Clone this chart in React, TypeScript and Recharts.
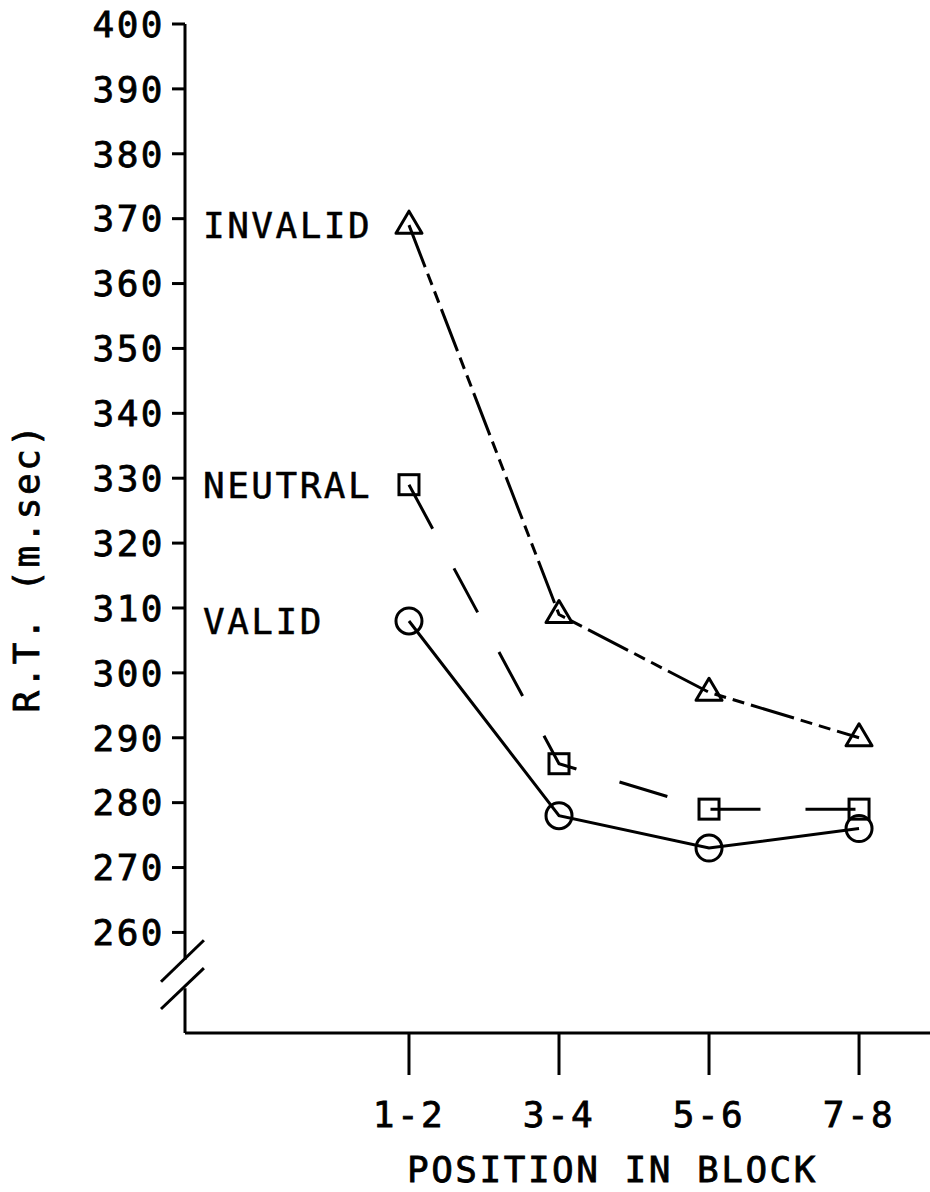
import React from 'react';
import { LineChart, Line, XAxis, YAxis, ReferenceLine } from 'recharts';

const categories = ['1-2', '3-4', '5-6', '7-8'];
const validRT = [308, 278, 273, 276];
const neutralRT = [329, 286, 279, 279];
const invalidRT = [369, 309, 297, 290];
const yTicks = [260, 270, 280, 290, 300, 310, 320, 330, 340, 350, 360, 370, 380, 390, 400];

const Y_MIN = 244.5;
const Y_MAX = 400;
const X_MIN = -0.493;
const X_MAX = 4.473;
// axis break (//) between 260 and the origin
const BREAK_LOW = 251.4;
const BREAK_HIGH = 255.8;

const FONT = '"DejaVu Sans Mono", monospace';
const INK = '#000';

const rows = categories.map((c, i) => ({
  pos: i + 1,
  valid: validRT[i],
  neutral: neutralRT[i],
  invalid: invalidRT[i],
}));

// plotter lettering is a bit heavier than the plain font
const textStyle = { fontFamily: FONT, fontSize: 36, letterSpacing: 2.5, fill: INK, stroke: INK, strokeWidth: 0.8 };

// name written left of the first point of a series
const seriesName = (name: string, cx: number, cy: number) => (
  <text x={cx - 206} y={cy} dy="0.36em" textAnchor="start" style={{ ...textStyle, strokeWidth: 0.5 }}>
    {name}
  </text>
);

const circleDot = (p: any) => (
  <g key={`v-${p.index}`}>
    <circle cx={p.cx} cy={p.cy} r={13} fill="none" stroke={INK} strokeWidth={3} strokeDasharray="none" />
    {p.index === 0 && seriesName('VALID', p.cx, p.cy)}
  </g>
);

const squareDot = (p: any) => (
  <g key={`n-${p.index}`}>
    <rect x={p.cx - 10} y={p.cy - 10} width={20} height={20} fill="none" stroke={INK} strokeWidth={3} strokeDasharray="none" />
    {p.index === 0 && seriesName('NEUTRAL', p.cx, p.cy)}
  </g>
);

const triangleDot = (p: any) => (
  <g key={`i-${p.index}`}>
    <path
      d={`M${p.cx},${p.cy - 14} L${p.cx + 13},${p.cy + 8} L${p.cx - 13},${p.cy + 8} Z`}
      fill="none"
      stroke={INK}
      strokeWidth={3}
      strokeLinejoin="round"
      strokeDasharray="none"
    />
    {p.index === 0 && seriesName('INVALID', p.cx, p.cy)}
  </g>
);

const yTitle = (props: any) => {
  const vb = props.viewBox || { x: 0, y: 24, width: 185, height: 1009 };
  const x = vb.x + 26;
  const y = vb.y + vb.height / 2 + 39;
  return (
    <text x={x} y={y} dy="0.36em" textAnchor="middle" transform={`rotate(-90 ${x} ${y})`} style={textStyle}>
      R.T. (m.sec)
    </text>
  );
};

const xTitle = (props: any) => {
  const vb = props.viewBox || { x: 185, y: 1033, width: 745, height: 159 };
  const x = vb.x + vb.width / 2 + 55;
  return (
    <text x={x} y={vb.y + 149} textAnchor="middle" style={textStyle}>
      POSITION IN BLOCK
    </text>
  );
};

const App: React.FC = () => {
  return (
    <div style={{ position: 'absolute', left: 0, top: 0, width: 930, height: 1192, background: '#fff' }}>
      <LineChart width={930} height={1192} data={rows} margin={{ top: 24, right: 0, bottom: 0, left: 0 }}>
        <XAxis
          dataKey="pos"
          type="number"
          domain={[X_MIN, X_MAX]}
          ticks={[1, 2, 3, 4]}
          interval={0}
          allowDataOverflow
          tickFormatter={(v: number) => categories[v - 1]}
          height={159}
          tickSize={42}
          tickMargin={26}
          axisLine={{ stroke: INK, strokeWidth: 3 }}
          tickLine={{ stroke: INK, strokeWidth: 3 }}
          tick={textStyle}
          label={xTitle}
        />
        <YAxis
          type="number"
          domain={[Y_MIN, Y_MAX]}
          ticks={yTicks}
          interval={0}
          allowDataOverflow
          width={185}
          tickSize={13}
          tickMargin={7}
          axisLine={false}
          tickLine={{ stroke: INK, strokeWidth: 3 }}
          tick={textStyle}
          label={yTitle}
        />
        <ReferenceLine segment={[{ x: X_MIN, y: Y_MAX }, { x: X_MIN, y: BREAK_HIGH }]} stroke={INK} strokeWidth={3} ifOverflow="visible" />
        <ReferenceLine segment={[{ x: X_MIN, y: BREAK_LOW }, { x: X_MIN, y: Y_MIN }]} stroke={INK} strokeWidth={3} ifOverflow="visible" />
        <ReferenceLine segment={[{ x: X_MIN - 0.16, y: 252.4 }, { x: X_MIN + 0.126, y: 258.8 }]} stroke={INK} strokeWidth={3} ifOverflow="visible" />
        <ReferenceLine segment={[{ x: X_MIN - 0.16, y: 248.2 }, { x: X_MIN + 0.126, y: 254.5 }]} stroke={INK} strokeWidth={3} ifOverflow="visible" />
        <Line
          type="linear"
          dataKey="valid"
          stroke={INK}
          strokeWidth={3}
          dot={circleDot}
          activeDot={false}
          isAnimationActive={false}
        />
        <Line
          type="linear"
          dataKey="neutral"
          stroke={INK}
          strokeWidth={3}
          strokeDasharray="50 45"
          dot={squareDot}
          activeDot={false}
          isAnimationActive={false}
        />
        <Line
          type="linear"
          dataKey="invalid"
          stroke={INK}
          strokeWidth={3}
          strokeDasharray="45 7 12 7 12 7"
          dot={triangleDot}
          activeDot={false}
          isAnimationActive={false}
        />
      </LineChart>
    </div>
  );
};

export default App;
